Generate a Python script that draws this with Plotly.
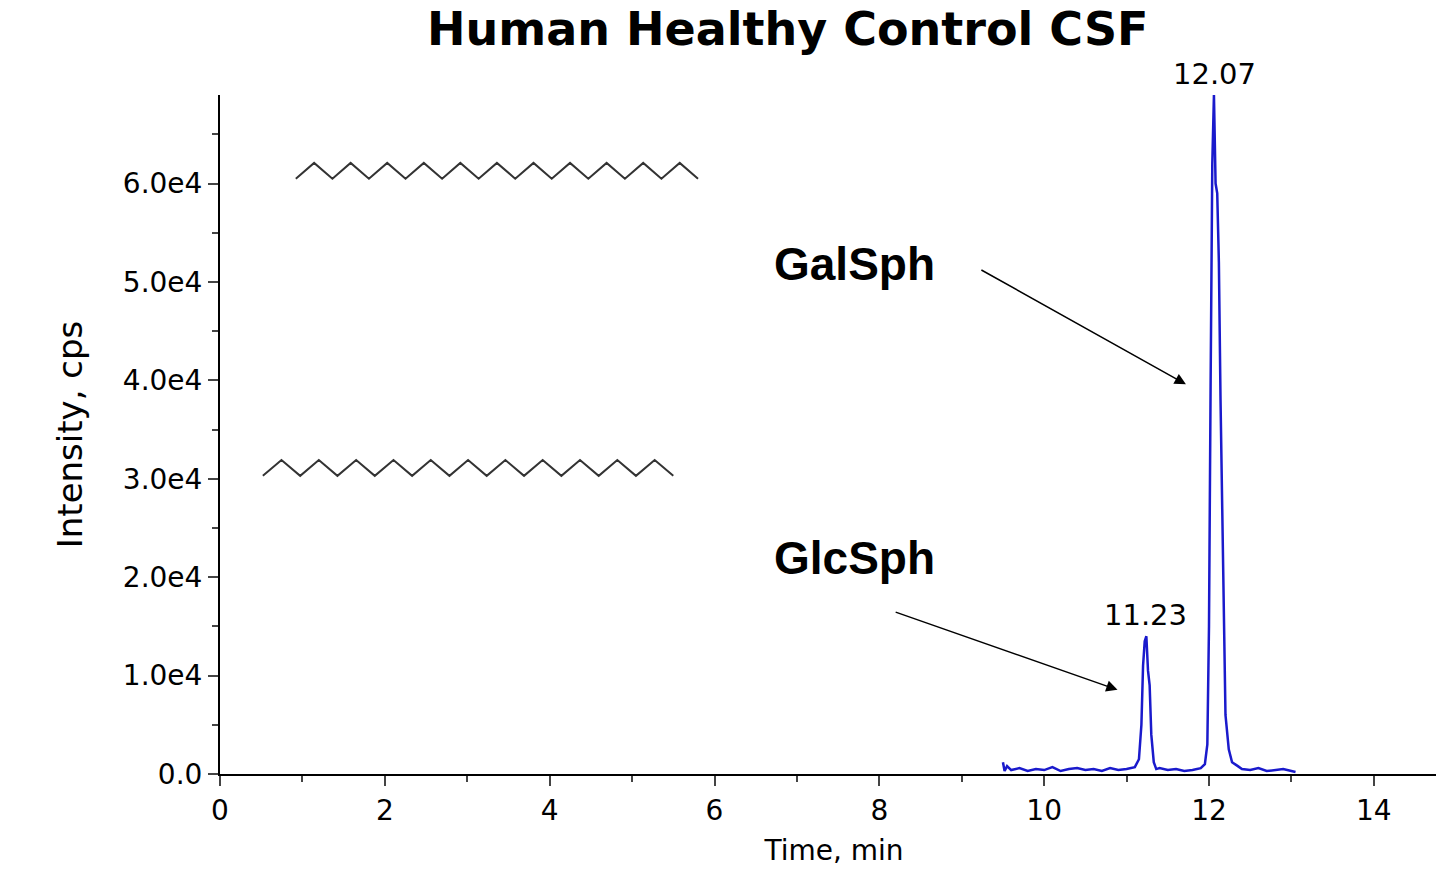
import plotly.graph_objects as go

# chromatogram (time in min, intensity in cps)
time_min = [9.5, 9.52, 9.55, 9.6, 9.7, 9.8, 9.9, 10.0, 10.1, 10.2, 10.3, 10.4, 10.5, 10.6, 10.7,
            10.8, 10.9, 11.0, 11.1, 11.15, 11.18, 11.2, 11.22, 11.24, 11.26, 11.28, 11.3, 11.33,
            11.36, 11.4, 11.5, 11.6, 11.7, 11.8, 11.9, 11.95, 11.98, 12.0, 12.02, 12.04, 12.06,
            12.08, 12.1, 12.12, 12.14, 12.16, 12.18, 12.2, 12.24, 12.28, 12.35, 12.4, 12.5, 12.6,
            12.7, 12.8, 12.9, 13.0, 13.05]
intensity = [1200, 300, 800, 400, 600, 300, 500, 400, 700, 300, 500, 600, 400, 500, 300,
             600, 400, 500, 700, 1500, 5000, 11000, 13500, 14000, 10500, 9000, 4000, 1200,
             500, 600, 400, 500, 300, 400, 600, 1000, 3000, 15000, 40000, 62000, 69000,
             60000, 59000, 52000, 38000, 27000, 13000, 6000, 2500, 1200, 800, 500, 400, 600,
             300, 400, 500, 300, 200]

y_ticks = [0, 10000, 20000, 30000, 40000, 50000, 60000]
y_labels = ['0.0', '1.0e4', '2.0e4', '3.0e4', '4.0e4', '5.0e4', '6.0e4']

peaks = [(11.23, 14000, '11.23'), (12.07, 69000, '12.07')]
compounds = [('GalSph', 7.7, 51800, 9.22, 51300, 11.72, 39600),
             ('GlcSph', 7.7, 22000, 8.18, 16500, 10.89, 8550)]


def zigzag(x0, y0, x1, n, amp):
    # decorative alkyl chain
    pts = []
    for i in range(n + 1):
        x = x0 + (x1 - x0) * i / n
        y = y0 + (amp if i % 2 else 0)
        pts.append(f'{x:.3f},{y:.0f}')
    return 'M ' + ' L '.join(pts)


fig = go.Figure()
fig.add_trace(go.Scatter(x=time_min, y=intensity, mode='lines',
                         line=dict(color='#1a1acc', width=2.5), showlegend=False))

for x, y, txt in peaks:
    fig.add_annotation(x=x, y=y, text=txt, showarrow=False, yanchor='bottom', yshift=2,
                       font=dict(size=29, color='black'))

for name, tx, ty, ax, ay, hx, hy in compounds:
    fig.add_annotation(x=tx, y=ty, text=f'<b>{name}</b>', showarrow=False,
                       font=dict(size=46, color='black', family='Liberation Sans'))
    fig.add_annotation(x=hx, y=hy, ax=ax, ay=ay, axref='x', ayref='y', text='',
                       showarrow=True, arrowhead=2, arrowsize=1.5, arrowwidth=1.5, arrowcolor='black')

fig.add_shape(type='path', path=zigzag(0.92, 60500, 5.8, 22, 1600), line=dict(color='#333', width=2))
fig.add_shape(type='path', path=zigzag(0.52, 30300, 5.5, 22, 1600), line=dict(color='#333', width=2))

fig.update_layout(
    width=1444, height=887, plot_bgcolor='white', paper_bgcolor='white',
    margin=dict(l=212, r=4, t=87, b=121),
    title=dict(text='<b>Human Healthy Control CSF</b>', x=0.54, y=0.995, yanchor='top',
               font=dict(size=46, color='black', family='DejaVu Sans')),
    font=dict(family='DejaVu Sans', color='black', size=28),
)
fig.update_xaxes(range=[0, 14.9], tickvals=list(range(0, 15, 2)), ticks='outside', ticklen=10,
                 tickwidth=2, minor=dict(dtick=1, ticks='outside', ticklen=6, tickwidth=2),
                 showline=True, linecolor='black', linewidth=2, showgrid=False, zeroline=False,
                 title=dict(text='Time, min', font=dict(size=28)))
fig.update_yaxes(range=[0, 69000], tickvals=y_ticks, ticktext=y_labels, ticks='outside', ticklen=10,
                 tickwidth=2, minor=dict(dtick=5000, ticks='outside', ticklen=6, tickwidth=2),
                 showline=True, linecolor='black', linewidth=2, showgrid=False, zeroline=False,
                 title=dict(text='Intensity, cps', font=dict(size=34), standoff=30))

fig.write_html('out.html')
